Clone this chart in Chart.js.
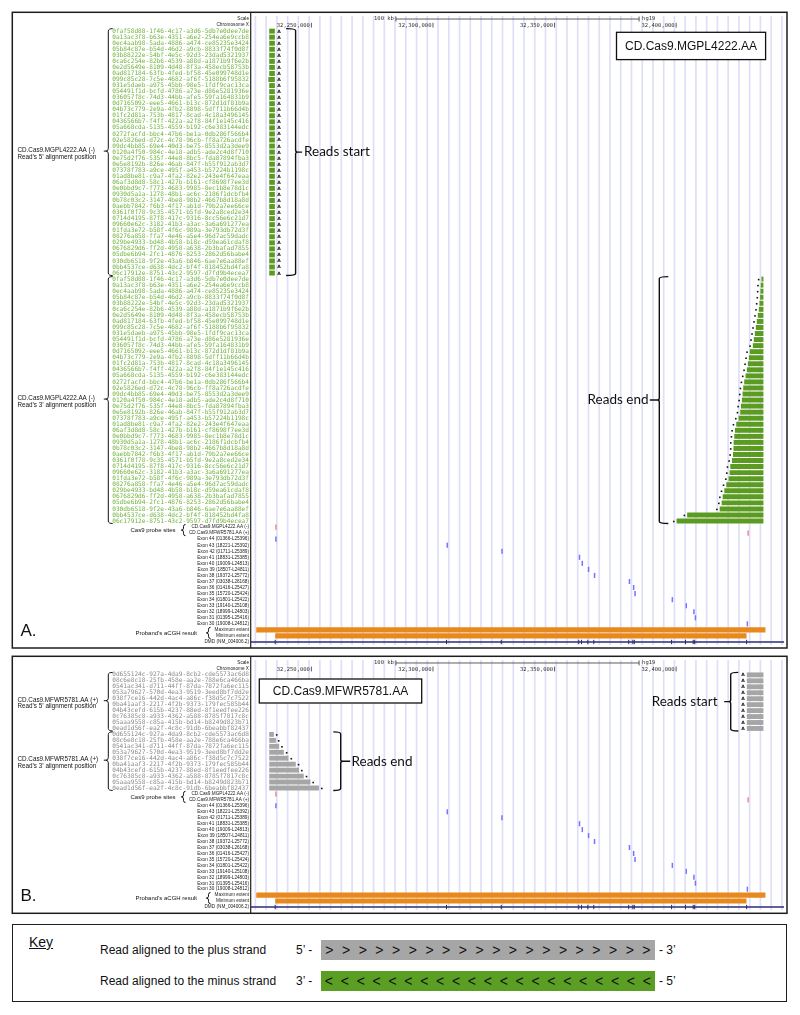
<!DOCTYPE html>
<html><head><meta charset="utf-8">
<script src="https://cdn.jsdelivr.net/npm/chart.js@4.4.1/dist/chart.umd.min.js"></script>
<style>
html,body{margin:0;padding:0;background:#fff;}
body{width:800px;height:1015px;position:relative;overflow:hidden;font-family:"Liberation Sans",Arial,sans-serif;color:#111;}
canvas{position:absolute;left:11px;}
#cA{top:11px;}
#cB{top:655px;}
.abs{position:absolute;white-space:nowrap;}
.kbar{position:absolute;display:flex;justify-content:space-around;align-items:center;font:14px "Liberation Sans",Arial,sans-serif;color:#111;}
</style></head>
<body>
<canvas id="cA" width="778" height="639"></canvas>
<canvas id="cB" width="778" height="260"></canvas>

<div class="abs" style="left:12px;top:924px;width:775px;height:78px;border:1.5px solid #1e1e1e;box-sizing:border-box;"></div>
<div class="abs" style="left:29px;top:934px;font-size:14px;line-height:16px;text-decoration:underline;">Key</div>
<div class="abs" style="left:100px;top:943px;font-size:12px;line-height:14px;">Read aligned to the plus strand</div>
<div class="abs" style="left:296px;top:943px;font-size:12px;line-height:14px;">5’ -</div>
<div class="kbar" id="kplus" style="left:321px;top:940px;width:334px;height:20px;background:#a6a6a6;"></div>
<div class="abs" style="left:659px;top:943px;font-size:12px;line-height:14px;">- 3’</div>
<div class="abs" style="left:100px;top:974px;font-size:12px;line-height:14px;">Read aligned to the minus strand</div>
<div class="abs" style="left:296px;top:974px;font-size:12px;line-height:14px;">3’ -</div>
<div class="kbar" id="kminus" style="left:321px;top:971px;width:334px;height:20px;background:#5a9e24;"></div>
<div class="abs" style="left:659px;top:974px;font-size:12px;line-height:14px;">- 5’</div>

<script>
// ================= DATA =================
const viewStart = 32225164, viewEnd = 32444354;
const positionTicks = [32250000, 32300000, 32350000, 32400000];
const scaleBarBp = 100000;

const readIdsA = [
"0faf58d88-1f46-4c17-a3d6-5db7e0dee7de","0a13ac3f8-b63e-4351-a6e2-254ea6e9ccb8","0ec4aab98-5ada-4886-a474-ce85235e3424",
"05b84c87e-b54d-46d2-a9cb-8833f74f0d8f","03b88222e-54bf-4e5c-92d3-23dad5321937","0ca6c254e-82b6-4539-a88d-a1871b9f6e2b",
"0e2d5649e-8109-4d48-8f3a-458ecb58753b","0ad817184-63fb-4fed-bf58-45e099748d1e","099c85c28-7c5e-4682-af6f-5188b6f95832",
"031e5daeb-a975-45bb-98e5-1fdf9cac13ca","054491f1d-bcfd-4786-a73e-d86e5281936e","036057f8c-74d3-44bb-afe5-59fa164831b9",
"0d7165092-eee5-4661-b13c-872d1df81b9a","04b73c779-2e9a-4fb2-8898-5dff11b66d4b","01fc2d81a-753b-4817-8cad-4c18a3496145",
"0436566b7-f4ff-422a-a2f8-84f1e145c416","05a668cda-5135-4559-b192-c6e383144edc","0272facfd-bbc4-47b6-be1a-0db286f566b4",
"02e5826ed-d72c-4c78-96cb-ff8a726acdfe","09dc4bb85-69e4-40d3-be75-8553d2a3dee9","0120a4f50-984c-4e18-adb5-ade2c4d8f710",
"0e75d2f76-535f-44e8-8bc5-fda87894fba3","0e5e8192b-826e-46ab-847f-b55f912ab3d7","07378f783-a9ce-495f-a453-b57224b1198c",
"01ad8be81-c9a7-4fa2-82e2-243e4f647eaa","06af3d8d8-58c1-427b-b161-cf8698f7ee3d","0e0bbd9c7-f773-4683-9985-8ec1b8e78d1c",
"0930d5a1a-1278-48b1-ac6c-2186f1dcbfb4","0b78c03c2-3147-4be8-98b2-4667b8d18a8d","0aebb7842-f6b3-4f17-ab1d-79b2a7ee66ce",
"0361f0f78-9c35-4571-b5fd-9e2a8ced2e34","0714d4195-87f8-417c-9316-8cc56e6c21d7","09660e62c-3182-41b3-a3ac-3a6a691277ea",
"01fda3e72-b58f-4f6c-989a-3e793db72d3f","08276a858-ffa7-4e46-a5e4-96d7ac59dadc","029be4933-bd48-4b58-b18c-d59ea61cdaf8",
"0676829d6-ff2d-4958-a638-2b3bafad7855","05dbe6b94-2fc1-4876-8253-2862d56babe4","030db6518-9f2e-43a6-b846-6ae7e6aa88ef",
"0bb4537ce-d638-4dc2-bf4f-818452bd4fa8","06c17912e-8751-43c2-9597-d7fd9b4ecea7"];

// Panel A: reads' 5' alignment position (minus strand)
const readA5Start = [32232650,32232650,32232650,32232650,32232650,32232650,32232650,32232650,32232300,32232650,
32232650,32232650,32232650,32232650,32232650,32232650,32232650,32232650,32232650,32232650,32232650,32232650,
32232650,32232650,32232650,32232650,32232650,32232650,32232650,32232650,32232650,32232650,32232650,32232650,
32232650,32232650,32232650,32232650,32232650,32232650,32232650];
const readA5End = [32234980,32234980,32234980,32234980,32234980,32234980,32234980,32234980,32234980,32234980,
32234980,32234980,32234980,32234980,32234980,32234980,32234980,32234980,32234980,32234980,32234980,32234980,
32234980,32234980,32234980,32234980,32234980,32234980,32234980,32234980,32234980,32234980,32234980,32234980,
32234980,32234980,32234980,32234980,32234980,32234980,32234980];
// Panel A: reads' 3' alignment position
const readA3Start = [32435081,32434808,32434672,32434535,32434262,32433990,32433580,32433171,32432762,32432353,
32431944,32431534,32430307,32429898,32429488,32429079,32428534,32427988,32427579,32427306,32427033,32426624,
32426351,32425669,32424714,32424169,32423896,32423623,32423580,32423350,32422941,32422259,32421986,32421577,
32420622,32419804,32419122,32418713,32417894,32404527,32400162];
const readA3End = [32435899,32435899,32435899,32435899,32435899,32435899,32435899,32435899,32435899,32435899,
32435899,32435899,32435899,32435899,32435899,32435899,32435899,32435899,32435899,32435899,32435899,32435899,
32435899,32435899,32435899,32435899,32435899,32435899,32435899,32435899,32435899,32435899,32435899,32435899,
32435899,32435899,32435899,32435899,32435899,32435899,32435899];

const readIdsB = ["0d655124c-927a-4da9-8cb2-cde5573ac6d8","08c6e8c18-25fb-458e-aa2e-788e6ca466ba",
"0541ac341-d711-44ff-87da-7872fa6ec115","053a79627-570d-4ea3-9519-3eed8bf7dd2e","038f7ce16-442d-4ac4-a86c-f38d5c7c7522",
"0ba41aaf3-2217-4f2b-9373-179fec585b44","04b43cefd-615b-4237-88ed-8f1eedfee226","0c76385c8-a933-4362-a588-8785f7817c8c",
"05aaa9558-c85a-415b-bd14-b8249d823b71","0ead1d56f-ea2f-4c8c-91db-6beabbf82437"];
// Panel B: plus strand reads
const readB5Start = [32429066,32429066,32429066,32429066,32429066,32429066,32429066,32429066,32429066,32429066];
const readB5End   = [32435900,32435900,32435900,32435900,32435900,32435900,32435900,32435900,32435900,32435900];
const readB3Start = [32232650,32232650,32232650,32232650,32232650,32232650,32232650,32232650,32232650,32232650];
const readB3End   = [32234573,32235392,32236742,32238665,32240588,32243576,32244926,32246849,32249591,32253110];

const probeNames = ["CD.Cas9.MGPL4222.AA (-)","CD.Cas9.MFWR5781.AA (+)"];
const probePos = [32235105, 32429300];

const exonNames = ["Exon 44 (01366-L25396)","Exon 43 (18221-L25392)","Exon 42 (01711-L25389)","Exon 41 (18831-L25385)",
"Exon 40 (19009-L24813)","Exon 39 (18507-L24811)","Exon 38 (19372-L25772)","Exon 37 (03038-L26168)",
"Exon 36 (01416-L25427)","Exon 35 (15720-L25424)","Exon 34 (01801-L25422)","Exon 33 (19140-L25108)",
"Exon 32 (18999-L24803)","Exon 31 (01395-L25416)","Exon 30 (19008-L24812)"];
const exonPos = [32235105,32305570,32328075,32359952,32361098,32363676,32366131,32380494,32382213,32382786,
32398130,32403859,32407010,32407624,32428984];

const acghNames = ["Maximum extent","Minimum extent"];
const acghStart = [32227330, 32235105];
const acghEnd   = [32436720, 32428944];

const geneName = "DMD (NM_004006.2)";
const geneStart = 31137345, geneEnd = 33357726;

// ================= STYLE =================
const GREEN = '#5b9b22', GREEN_TXT = '#6fb23c', GRAY = '#a6a6a6', GRAY_TXT = '#8a8a8a';
const GRID_STEP_BP = 4419;
const OFFX = 11;

function buildRows(ids) {
  const keys = [], texts = [], kinds = [];
  const add = (k, t, kind) => { keys.push(k); texts.push(t); kinds.push(kind); };
  add('scale', 'Scale', 'small'); add('chrom', 'Chromosome X', 'small');
  ids.forEach((id, i) => add('r5_' + i, id, 'id'));
  ids.forEach((id, i) => add('r3_' + i, id, 'id'));
  probeNames.forEach((n, i) => add('probe_' + i, n, 'small'));
  exonNames.forEach((n, i) => add('exon_' + i, n, 'small'));
  acghNames.forEach((n, i) => add('acgh_' + i, n, 'small'));
  add('gene', geneName, 'small');
  return {keys, texts, kinds};
}

function brace(ctx, x, y0, y1, ym, dir, hook, notch, r) {
  ctx.beginPath();
  ctx.moveTo(x + dir * hook, y0);
  ctx.quadraticCurveTo(x, y0, x, y0 + r);
  ctx.lineTo(x, ym - r);
  ctx.quadraticCurveTo(x, ym, x - dir * r, ym);
  ctx.lineTo(x - dir * notch, ym);
  ctx.moveTo(x - dir * r, ym);
  ctx.quadraticCurveTo(x, ym, x, ym + r);
  ctx.lineTo(x, y1 - r);
  ctx.quadraticCurveTo(x, y1, x + dir * hook, y1);
  ctx.stroke();
}

function makePanel(canvasId, o) {
  const rows = buildRows(o.ids);
  const n = o.ids.length;
  const gridVals = [];
  for (let v = viewStart + 1800; v < viewEnd; v += GRID_STEP_BP) gridVals.push(v);
  const bar = (extra) => Object.assign({type: 'bar', grouped: false, categoryPercentage: 1, barPercentage: 0.82,
    borderWidth: 0, borderSkipped: false}, extra);
  const datasets = [
    bar({label: 'reads5', data: o.ids.map((_, i) => ({y: 'r5_' + i, x: [o.r5s[i], o.r5e[i]]})), backgroundColor: o.readColor}),
    bar({label: 'reads3', data: o.ids.map((_, i) => ({y: 'r3_' + i, x: [o.r3s[i], o.r3e[i]]})), backgroundColor: o.readColor}),
    bar({label: 'probes', data: probePos.map((p, i) => ({y: 'probe_' + i, x: [p, p + 100]})), backgroundColor: '#f08a8a', minBarLength: 1.5, barPercentage: 0.85}),
    bar({label: 'exons', data: exonPos.map((p, i) => ({y: 'exon_' + i, x: [p, p + 150]})), backgroundColor: '#7474ff', minBarLength: 1.5, barPercentage: 0.85}),
    bar({label: 'acgh', data: acghNames.map((_, i) => ({y: 'acgh_' + i, x: [acghStart[i], acghEnd[i]]})), backgroundColor: '#e8891e', barPercentage: 0.85}),
    bar({label: 'gene', data: [{y: 'gene', x: [geneStart, geneEnd]}], backgroundColor: '#2c2c78', barThickness: 1, clip: 0}),
    {type: 'scatter', label: 'geneExons', indexAxis: 'x', data: exonPos.map(p => ({x: p, y: 'gene'})),
     pointStyle: 'line', rotation: 90, radius: 2.2, borderColor: '#25256e', borderWidth: 1, showLine: false}
  ];
  const labelSpec = [{ds: 0, txt: 'A', side: o.side5}, {ds: 1, txt: '.', side: o.side3}];

  const gridPlugin = {
    id: 'grid_' + canvasId,
    beforeDatasetsDraw(chart) {
      const ctx = chart.ctx, ca = chart.chartArea, xs = chart.scales.x;
      ctx.save();
      ctx.strokeStyle = '#dfdff9'; ctx.lineWidth = 1.7;
      ctx.beginPath();
      gridVals.forEach(v => {
        const x = xs.getPixelForValue(v);
        ctx.moveTo(x, ca.top); ctx.lineTo(x, ca.bottom);
      });
      ctx.stroke();
      ctx.restore();
    }
  };

  const decoPlugin = {
    id: 'deco_' + canvasId,
    afterDraw(chart) {
      const ctx = chart.ctx, ca = chart.chartArea, xs = chart.scales.x, ys = chart.scales.y;
      const ry = k => ys.getPixelForValue(rows.keys.indexOf(k));
      const X = v => v - OFFX, Y = v => v - o.offY;
      ctx.save();
      // item labels ("A" / ".")
      ctx.fillStyle = '#111';
      labelSpec.forEach(ls => {
        chart.getDatasetMeta(ls.ds).data.forEach(el => {
          const l = Math.min(el.x, el.base), r = Math.max(el.x, el.base);
          if (ls.txt === '.') {
            const cx = ls.side === 'left' ? l - 2.8 : r + 2.8;
            ctx.fillRect(cx - 0.8, el.y - 0.3, 1.6, 1.6);
          } else {
            ctx.font = 'bold 4.6px "DejaVu Sans"';
            ctx.textBaseline = 'middle';
            ctx.textAlign = ls.side === 'left' ? 'right' : 'left';
            ctx.fillText('A', ls.side === 'left' ? l - 2 : r + 2.5, el.y + 0.3);
          }
        });
      });
      // panel frame + divider
      ctx.strokeStyle = '#1e1e1e'; ctx.lineWidth = 1.5;
      ctx.strokeRect(1.3, 1.3, chart.width - 3.3, o.frameBottom - 1.3);
      ctx.lineWidth = 1.2;
      ctx.beginPath(); ctx.moveTo(ca.left - 0.3, 1.3); ctx.lineTo(ca.left - 0.3, o.frameBottom); ctx.stroke();
      // scale bar
      const yS = ry('scale'), cen = (viewStart + viewEnd) / 2;
      const sx1 = xs.getPixelForValue(cen - scaleBarBp / 2), sx2 = xs.getPixelForValue(cen + scaleBarBp / 2);
      ctx.strokeStyle = '#333'; ctx.lineWidth = 0.8;
      ctx.beginPath();
      ctx.moveTo(sx1, yS); ctx.lineTo(sx2, yS);
      ctx.moveTo(sx1, yS - 2.5); ctx.lineTo(sx1, yS + 2.5);
      ctx.moveTo(sx2, yS - 2.5); ctx.lineTo(sx2, yS + 2.5);
      ctx.stroke();
      ctx.fillStyle = '#333'; ctx.font = '5.5px "DejaVu Sans Mono"'; ctx.textBaseline = 'middle';
      ctx.textAlign = 'right'; ctx.fillText('100 kb', sx1 - 2, yS);
      ctx.textAlign = 'left'; ctx.fillText('hg19', sx2 + 3, yS);
      // position labels
      const yC = ry('chrom');
      positionTicks.forEach(v => {
        const px = xs.getPixelForValue(v);
        ctx.textAlign = 'right';
        ctx.fillText(v.toLocaleString('en-US'), px - 1.5, yC + 0.5);
        ctx.beginPath(); ctx.moveTo(px, yC - 2.3); ctx.lineTo(px, yC + 2.5); ctx.stroke();
      });
      // left-side group labels
      ctx.strokeStyle = '#111'; ctx.fillStyle = '#111'; ctx.lineWidth = 1;
      const group = (pref, lines) => {
        const y0 = ry(pref + '0') - 2.5, y1 = ry(pref + (n - 1)) + 2.5, mid = (y0 + y1) / 2;
        brace(ctx, X(108.3), y0, y1, mid - 1, 1, 4.4, 4.5, 2.5);
        ctx.font = '6.3px "Liberation Sans"'; ctx.textAlign = 'left'; ctx.textBaseline = 'middle';
        ctx.fillText(lines[0], X(17.5), mid - 1.5);
        ctx.fillText(lines[1], X(17.5), mid + 5);
      };
      group('r5_', o.lbl5); group('r3_', o.lbl3);
      const smallGroup = (k0, k1, text, textRight, bx) => {
        const y0 = ry(k0) - 2.6, y1 = ry(k1) + 2.6, mid = (y0 + y1) / 2;
        brace(ctx, X(bx), y0, y1, mid, 1, 2, 2.5, 2);
        ctx.font = '6px "Liberation Sans"'; ctx.textAlign = 'right'; ctx.textBaseline = 'middle';
        ctx.fillText(text, X(textRight), mid + 0.3);
      };
      smallGroup('probe_0', 'probe_1', 'Cas9 probe sites', 175.5, 183.5);
      smallGroup('acgh_0', 'acgh_1', 'Proband’s aCGH result', 197, 208.5);
      ctx.font = '17px "Liberation Sans"'; ctx.textAlign = 'left'; ctx.textBaseline = 'middle';
      ctx.fillText(o.panelLetter, X(20.5), ry('acgh_0') + 1.5);
      // title box
      const b = o.box;
      ctx.fillStyle = '#fff'; ctx.fillRect(X(b[0]), Y(b[1]), b[2] - b[0], b[3] - b[1]);
      ctx.strokeStyle = '#111'; ctx.lineWidth = 1.3;
      ctx.strokeRect(X(b[0]), Y(b[1]), b[2] - b[0], b[3] - b[1]);
      ctx.fillStyle = '#111'; ctx.font = '12px "Liberation Sans"'; ctx.textAlign = 'center';
      ctx.fillText(o.title, X((b[0] + b[2]) / 2), Y((b[1] + b[3]) / 2) + 0.5);
      // reads start / end brackets
      ctx.lineWidth = 1.4; ctx.strokeStyle = '#111';
      ctx.font = '13.5px Lato'; ctx.textBaseline = 'middle';
      o.brackets.forEach(bk => {
        const y0 = ry(bk.pref + '0') - 2.5, y1 = ry(bk.pref + (n - 1)) + 2.5, mid = (y0 + y1) / 2;
        brace(ctx, X(bk.x), y0, y1, mid, bk.dir, bk.hook, bk.notch, 2);
        ctx.textAlign = bk.dir === 1 ? 'right' : 'left';
        ctx.fillText(bk.text, X(bk.tx), mid);
      });
      ctx.restore();
    }
  };

  return new Chart(document.getElementById(canvasId), {
    type: 'bar',
    data: {labels: rows.keys, datasets},
    options: {
      indexAxis: 'y', responsive: false, animation: false, devicePixelRatio: 1,
      layout: {padding: o.padding},
      plugins: {legend: {display: false}, tooltip: {enabled: false}},
      scales: {
        x: {type: 'linear', position: 'bottom', min: viewStart, max: viewEnd,
            ticks: {display: false}, grid: {display: false, drawTicks: false}, border: {display: false},
            afterFit: s => { s.height = 0; s.paddingLeft = 0; s.paddingRight = 0; }},
        y: {type: 'category', labels: rows.keys, offset: true, position: 'left',
            grid: {display: false, drawTicks: false}, border: {display: false},
            ticks: {autoSkip: false, padding: 2,
              callback: (v, i) => rows.texts[i],
              font: c => rows.kinds[c.index] === 'id' ? {family: '"DejaVu Sans Mono"', size: 6.15} : {family: '"Liberation Sans"', size: 4.7},
              color: c => rows.kinds[c.index] === 'id' ? o.idColor : '#222'},
            afterFit: s => { s.width = 240; s.paddingTop = 0; s.paddingBottom = 0; }}
      }
    },
    plugins: [gridPlugin, decoPlugin]
  });
}

makePanel('cA', {
  ids: readIdsA, r5s: readA5Start, r5e: readA5End, r3s: readA3Start, r3e: readA3End,
  readColor: GREEN, idColor: GREEN_TXT, side5: 'right', side3: 'left', offY: 11,
  padding: {left: 0, top: 2.9, right: 2.3, bottom: 4.4}, frameBottom: 637,
  lbl5: ['CD.Cas9.MGPL4222.AA (-)', 'Read’s 5’ alignment position'],
  lbl3: ['CD.Cas9.MGPL4222.AA (-)', 'Read’s 3’ alignment position'],
  panelLetter: 'A.', title: 'CD.Cas9.MGPL4222.AA', box: [616.5, 32.3, 765.6, 59.6],
  brackets: [
    {pref: 'r5_', x: 295.6, dir: -1, hook: 9.5, notch: 6.5, text: 'Reads start', tx: 304},
    {pref: 'r3_', x: 659.3, dir: 1, hook: 9, notch: 9.5, text: 'Reads end', tx: 648.5}
  ]
});

makePanel('cB', {
  ids: readIdsB, r5s: readB5Start, r5e: readB5End, r3s: readB3Start, r3e: readB3End,
  readColor: GRAY, idColor: GRAY_TXT, side5: 'left', side3: 'right', offY: 655,
  padding: {left: 0, top: 2.7, right: 2.3, bottom: 2.2}, frameBottom: 258.3,
  lbl5: ['CD.Cas9.MFWR5781.AA (+)', 'Read’s 5’ alignment position'],
  lbl3: ['CD.Cas9.MFWR5781.AA (+)', 'Read’s 3’ alignment position'],
  panelLetter: 'B.', title: 'CD.Cas9.MFWR5781.AA', box: [259.3, 679, 421.7, 703],
  brackets: [
    {pref: 'r5_', x: 730.7, dir: 1, hook: 7.6, notch: 6.5, text: 'Reads start', tx: 717.5},
    {pref: 'r3_', x: 340.7, dir: -1, hook: 7.4, notch: 9.5, text: 'Reads end', tx: 351.5}
  ]
});

// key chevrons
document.getElementById('kplus').innerHTML = Array(20).fill('<span>&gt;</span>').join('');
document.getElementById('kminus').innerHTML = Array(21).fill('<span>&lt;</span>').join('');
</script>
</body></html>
